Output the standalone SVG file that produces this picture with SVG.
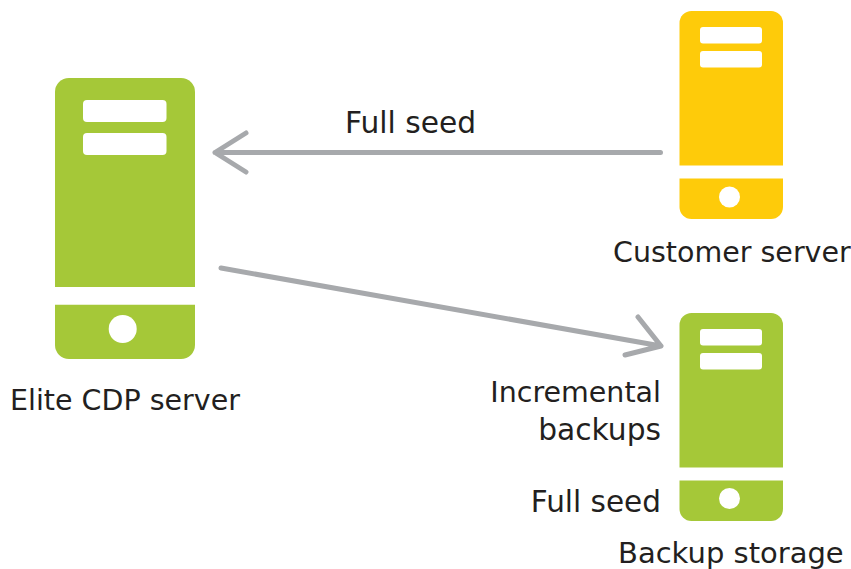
<svg xmlns="http://www.w3.org/2000/svg" width="851" height="569" viewBox="0 0 851 569">
<style>
.green{fill:#a5c838}
.yellow{fill:#fecb0a}
.hole{fill:#fff}
.conn{fill:none;stroke:#a7a9ac;stroke-width:5;stroke-linecap:round;stroke-linejoin:round}
text{font-family:"DejaVu Sans","Liberation Sans",sans-serif;font-size:28.5px;fill:#231f20}
.end{text-anchor:end}
.wide{font-size:29.700px}
</style>
<rect width="851" height="569" fill="#fff"/>
<g id="elite-cdp-server">
<path class="green" d="M55 287V92a14 14 0 0 1 14-14H181a14 14 0 0 1 14 14V287Z"/>
<path class="green" d="M55 304.700H195V345a14 14 0 0 1-14 14H69a14 14 0 0 1-14-14Z"/>
<rect class="hole" x="83" y="100" width="83.500" height="22" rx="4"/>
<rect class="hole" x="83" y="133" width="83.500" height="22" rx="4"/>
<circle class="hole" cx="122.700" cy="329" r="14"/>
<text x="10" y="410">Elite CDP server</text>
</g>
<g id="customer-server">
<path class="yellow" d="M679.500 165.500V23a12 12 0 0 1 12-12H771a12 12 0 0 1 12 12V165.500Z"/>
<path class="yellow" d="M679.500 178.500H783V207a12 12 0 0 1-12 12H691.500a12 12 0 0 1-12-12Z"/>
<rect class="hole" x="700" y="27" width="62" height="16.500" rx="3"/>
<rect class="hole" x="700" y="51" width="62" height="16.500" rx="3"/>
<circle class="hole" cx="729.500" cy="197" r="10.500"/>
<text x="613" y="262">Customer server</text>
</g>
<g id="backup-storage">
<path class="green" d="M679.500 467.500V325a12 12 0 0 1 12-12H771a12 12 0 0 1 12 12V467.500Z"/>
<path class="green" d="M679.500 480.500H783V509a12 12 0 0 1-12 12H691.500a12 12 0 0 1-12-12Z"/>
<rect class="hole" x="700" y="329" width="62" height="16.500" rx="3"/>
<rect class="hole" x="700" y="353" width="62" height="16.500" rx="3"/>
<circle class="hole" cx="729.500" cy="498.500" r="10.500"/>
<text x="618" y="562.500" style="font-size:29px">Backup storage</text>
<text class="end" x="661" y="402">Incremental</text>
<text class="end wide" x="661" y="440">backups</text>
<text class="end" x="661" y="512" style="font-size:29.500px">Full seed</text>
</g>
<g id="connectors">
<path class="conn" d="M660.500 152.500H215M246 133L215 152.500L246 172"/>
<path class="conn" d="M221 268L661 346M638 317L661 346L625 355"/>
<text class="wide" x="345" y="133">Full seed</text>
</g>
</svg>
